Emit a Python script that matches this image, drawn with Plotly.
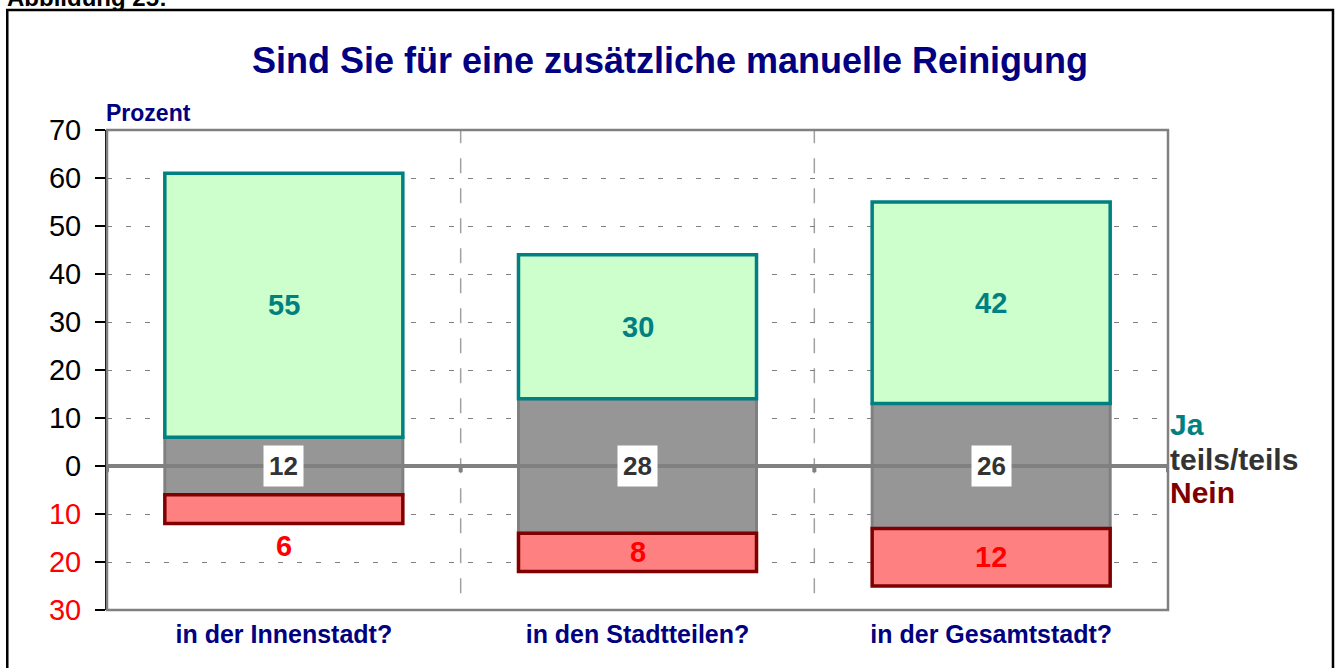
import plotly.graph_objects as go

categories = ["in der Innenstadt?", "in den Stadtteilen?", "in der Gesamtstadt?"]
ja = [55, 30, 42]
teils = [12, 28, 26]
nein = [6, 8, 12]
series_names = ["Ja", "teils/teils", "Nein"]
ytick_vals = [-30, -20, -10, 0, 10, 20, 30, 40, 50, 60, 70]
ytick_text = ["30", "20", "10", "0", "10", "20", "30", "40", "50", "60", "70"]

FONT = "Arial, 'Liberation Sans', sans-serif"
NAVY = "#000080"
TEAL = "#008080"
GREY_TXT = "#333333"
DARKRED = "#800000"
RED = "#FF0000"

ja_base = [t / 2 for t in teils]
teils_base = [-t / 2 for t in teils]
nein_base = [-t / 2 - n for t, n in zip(teils, nein)]

fig = go.Figure()
BW = 0.673
fig.add_trace(go.Bar(x=categories, y=teils, base=teils_base, width=BW, name=series_names[1],
                     marker=dict(color="#969696", line=dict(color="#808080", width=3))))
fig.add_trace(go.Bar(x=categories, y=ja, base=ja_base, width=BW, name=series_names[0],
                     marker=dict(color="#CCFFCC", line=dict(color=TEAL, width=3.5))))
fig.add_trace(go.Bar(x=categories, y=nein, base=nein_base, width=BW, name=series_names[2],
                     marker=dict(color="#FF8080", line=dict(color=DARKRED, width=3.5))))

ann = []
for i, c in enumerate(categories):
    ann.append(dict(x=c, y=ja_base[i] + ja[i] / 2, text=f"<b>{ja[i]}</b>", showarrow=False,
                    font=dict(family=FONT, size=29, color=TEAL)))
    ann.append(dict(x=c, y=0, text=f"<b>{teils[i]}</b>", showarrow=False, bgcolor="white",
                    borderpad=5, font=dict(family=FONT, size=26, color=GREY_TXT)))
    if nein[i] >= 8:
        ann.append(dict(x=c, y=nein_base[i] + nein[i] / 2, text=f"<b>{nein[i]}</b>", showarrow=False,
                        font=dict(family=FONT, size=29, color=RED)))
    else:
        ann.append(dict(x=c, y=nein_base[i], yanchor="top", yshift=-4, text=f"<b>{nein[i]}</b>",
                        showarrow=False, font=dict(family=FONT, size=29, color=RED)))

# right-side series labels
for name, yv, col in zip(series_names, [8.7, 1.4, -5.6], [TEAL, GREY_TXT, DARKRED]):
    ann.append(dict(xref="paper", x=1.0, xanchor="left", xshift=0, y=yv, yref="y", text=f"<b>{name}</b>",
                    showarrow=False, font=dict(family=FONT, size=30, color=col)))

ann.append(dict(xref="paper", yref="paper", x=0.0, xanchor="left", xshift=-3, y=1.035, yanchor="middle",
                text="<b>Prozent</b>", showarrow=False, font=dict(family=FONT, size=23, color=NAVY)))
ann.append(dict(xref="paper", yref="paper", x=-0.096, xanchor="left", y=1.277, yanchor="middle",
                text="<b>Abbildung 25:</b>", showarrow=False, font=dict(family=FONT, size=24, color="black")))

shapes = []
# plot area border (grey)
shapes.append(dict(type="rect", xref="paper", yref="paper", x0=0, x1=1, y0=0, y1=1,
                   line=dict(color="#808080", width=2.5), layer="above"))
# outer frame
shapes.append(dict(type="rect", xref="paper", yref="paper", x0=-0.094, x1=1.1555, y0=-0.13, y1=1.25,
                   line=dict(color="black", width=2.5)))
# category separators
for i in range(len(categories) - 1):
    shapes.append(dict(type="line", xref="x", yref="paper", x0=i + 0.5, x1=i + 0.5, y0=0.035, y1=1,
                       line=dict(color="#A0A0A0", width=1.5, dash="longdash"), layer="below"))
# zero line
shapes.append(dict(type="line", xref="paper", yref="y", x0=0, x1=1, y0=0, y1=0,
                   line=dict(color="#808080", width=4), layer="above"))
for i in range(len(categories) + 1):
    shapes.append(dict(type="line", xref="x", yref="y", x0=i - 0.5, x1=i - 0.5, y0=0, y1=-1.3,
                       line=dict(color="#808080", width=4), layer="above"))

tick_text_colored = [f'<span style="color:{RED}">{t}</span>' if v < 0 else t
                     for v, t in zip(ytick_vals, ytick_text)]

fig.update_layout(
    width=1340, height=668,
    margin=dict(l=107, r=172, t=130, b=58),
    paper_bgcolor="white", plot_bgcolor="white",
    barmode="overlay", showlegend=False,
    title=dict(text="<b>Sind Sie für eine zusätzliche manuelle Reinigung</b>", x=0.5, xanchor="center",
               y=1 - 60 / 668, yanchor="middle", font=dict(family=FONT, size=36, color=NAVY)),
    annotations=ann, shapes=shapes,
    font=dict(family=FONT),
)
fig.update_xaxes(range=[-0.5, 2.5], showgrid=False, zeroline=False, showline=False, ticks="",
                 ticklabelstandoff=7,
                 tickfont=dict(family=FONT, size=25, color=NAVY),
                 tickvals=categories, ticktext=[f"<b>{c}</b>" for c in categories])
fig.update_yaxes(range=[-30, 70], tickvals=ytick_vals, ticktext=tick_text_colored,
                 tickfont=dict(family=FONT, size=29, color="black"),
                 ticks="outside", ticklen=10, tickcolor="black", tickwidth=1.5,
                 ticklabelstandoff=8,
                 showline=True, linecolor="black", linewidth=2,
                 showgrid=True, gridcolor="#808080", gridwidth=1, griddash="5px,14px",
                 zeroline=False)

fig.write_html("out.html", config={"displayModeBar": False},
               post_script="document.body.style.margin='0';document.body.style.overflow='hidden';")
